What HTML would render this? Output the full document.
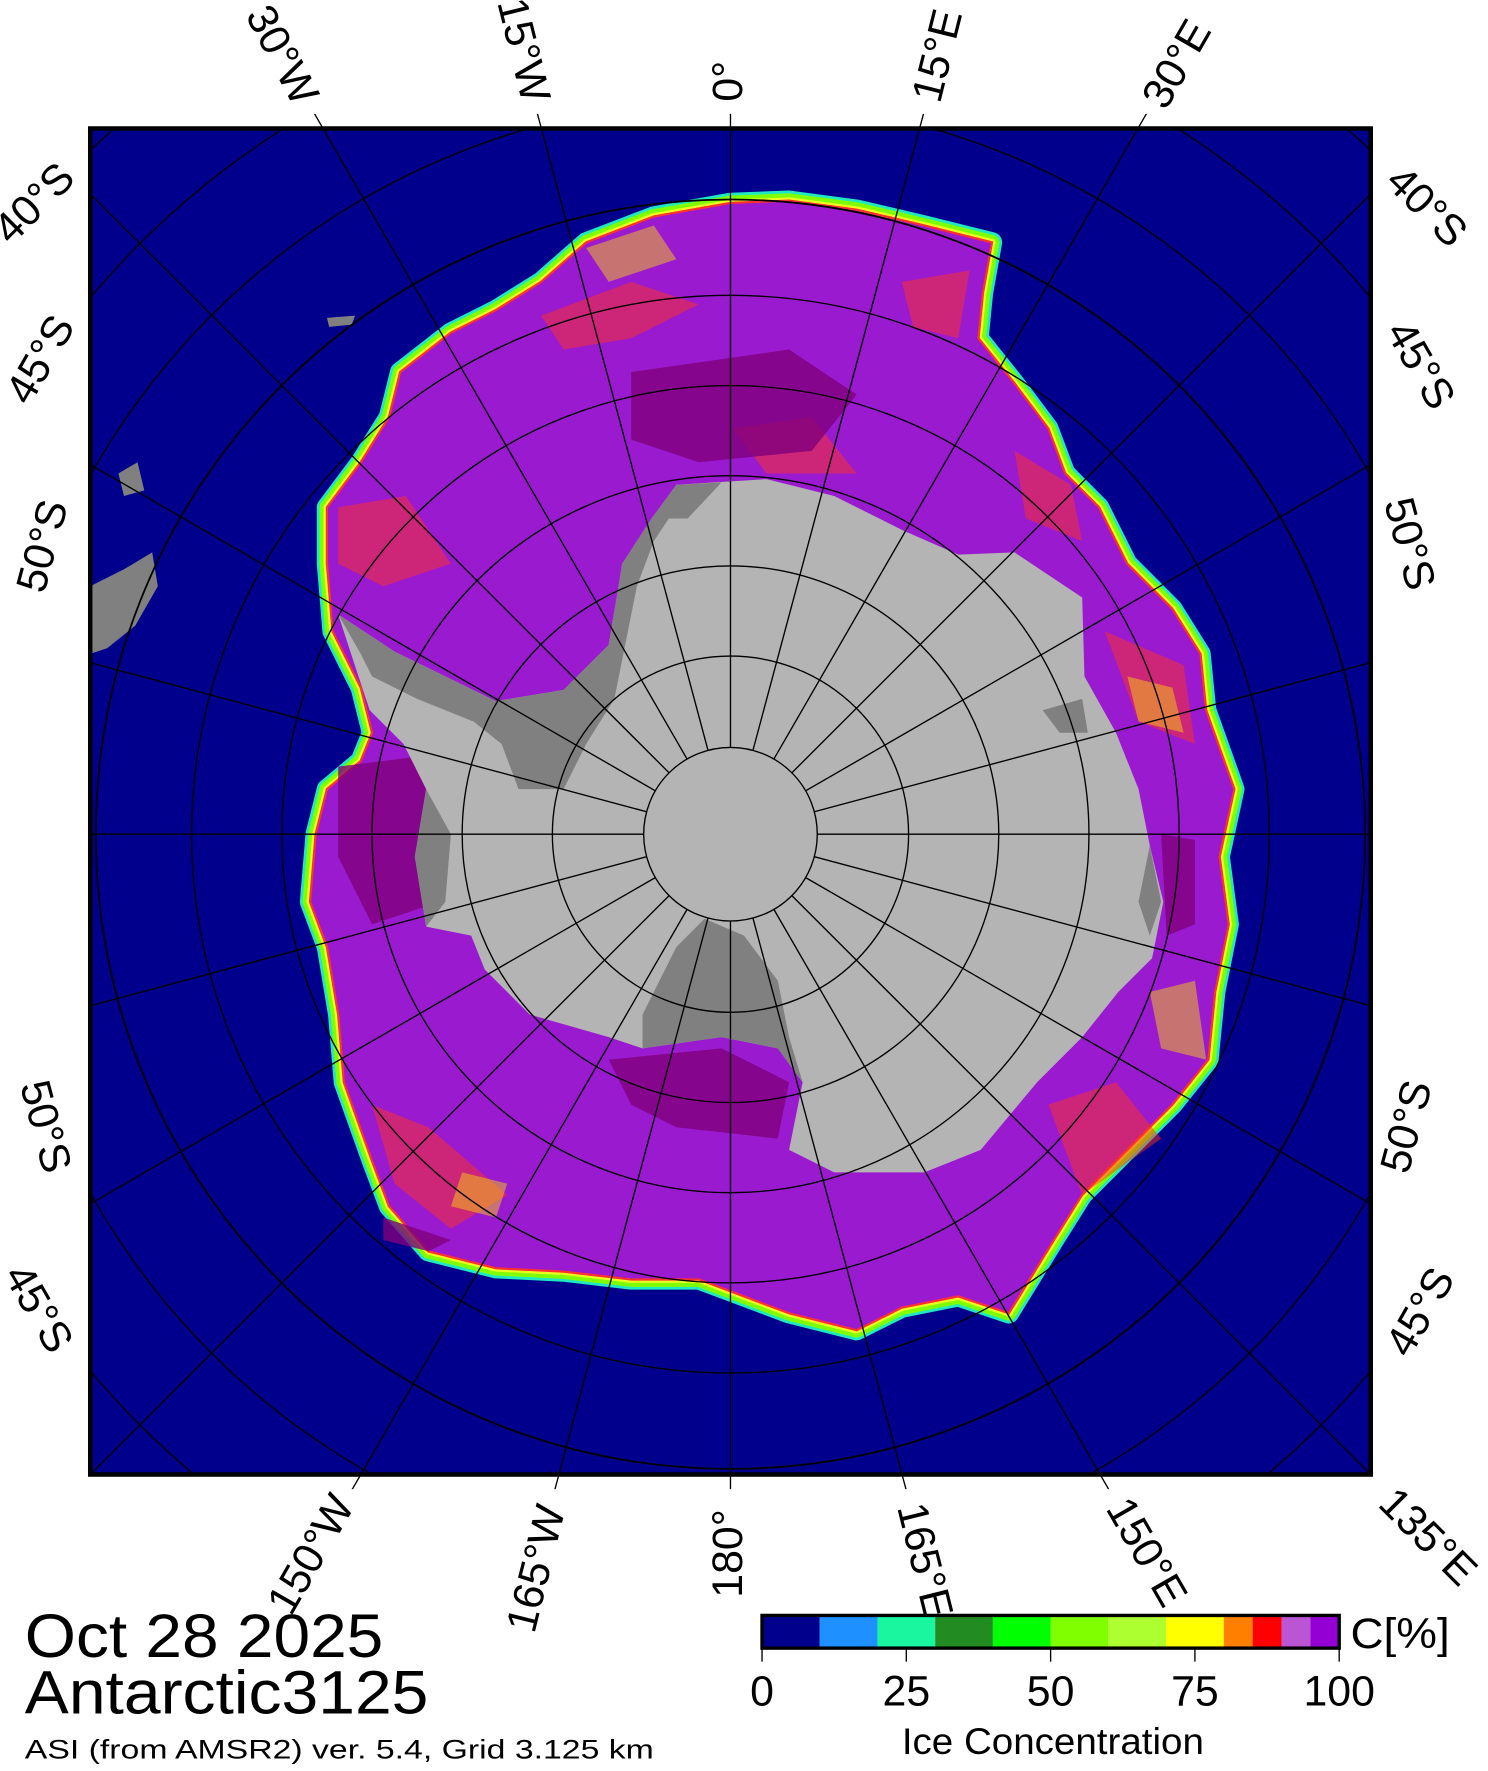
<!DOCTYPE html>
<html><head><meta charset="utf-8"><style>
html,body{margin:0;padding:0;background:#fff;overflow:hidden;width:1488px;height:1771px;}
svg{display:block;position:absolute;left:0;top:0;}
text{font-family:"Liberation Sans",Arial,sans-serif;fill:#000;}
</style></head><body>
<svg width="1488" height="1771" viewBox="0 0 1320 1571" preserveAspectRatio="none" xmlns="http://www.w3.org/2000/svg">
<defs>
<clipPath id="fr"><rect x="80" y="114" width="1136" height="1194"/></clipPath>
<clipPath id="fr2"><rect x="80" y="101" width="1136" height="1220"/></clipPath>
<path id="ext" d="M648,180 L700,178 L760,186 L820,200 L880,215 L872,260 L868,300 L900,340 L930,380 L945,420 L975,450 L1000,500 L1040,540 L1065,580 L1070,630 L1095,700 L1082,760 L1090,820 L1078,880 L1072,940 L1040,980 L1000,1020 L960,1060 L935,1100 L895,1165 L850,1150 L800,1160 L760,1180 L700,1165 L660,1150 L620,1135 L560,1135 L500,1128 L440,1125 L380,1110 L345,1070 L330,1030 L305,960 L300,900 L290,840 L275,800 L280,740 L290,700 L320,675 L330,650 L320,610 L295,560 L290,500 L290,450 L320,410 L345,370 L355,330 L400,295 L440,275 L480,250 L520,215 L580,192 Z"/>
</defs>
<rect x="80" y="114" width="1136" height="1194" fill="#00008c"/>
<g clip-path="url(#fr)">
<path d="M80,520 L110,505 L135,490 L140,520 L120,555 L95,575 L80,580Z" fill="#808080"/>
<path d="M105,420 L122,410 L128,435 L110,440Z" fill="#808080"/>
<path d="M290,282 L315,280 L312,288 L292,290Z" fill="#808080"/>
<use href="#ext" fill="none" stroke="#20e8c0" stroke-width="18" stroke-linejoin="round"/>
<use href="#ext" fill="none" stroke="#7fff00" stroke-width="13" stroke-linejoin="round"/>
<use href="#ext" fill="none" stroke="#e8ff20" stroke-width="6" stroke-linejoin="round"/>
<use href="#ext" fill="#9a1ad0" stroke="#ff3030" stroke-width="2"/>
<g fill="#ff3020" opacity="0.5">
<path d="M480,280 L560,250 L620,270 L560,300 L500,310Z"/>
<path d="M300,450 L360,440 L400,500 L340,520 L300,500Z"/>
<path d="M800,250 L860,240 L850,300 L810,290Z"/>
<path d="M900,400 L950,430 L960,480 L910,460Z"/>
<path d="M980,560 L1050,590 L1060,660 L1010,640Z"/>
<path d="M330,980 L380,1000 L450,1060 L400,1090 L350,1050Z"/>
<path d="M930,980 L990,960 L1030,1010 L960,1060Z"/>
<path d="M650,380 L720,370 L760,420 L680,420Z"/>
</g>
<g fill="#ffe000" opacity="0.45">
<path d="M520,220 L580,200 L600,230 L540,250Z"/>
<path d="M1000,600 L1040,610 L1050,650 L1010,640Z"/>
<path d="M1020,880 L1060,870 L1070,940 L1030,930Z"/>
<path d="M410,1040 L450,1050 L440,1080 L400,1070Z"/>
</g>
<g fill="#80007a" opacity="0.8">
<path d="M300,680 L380,670 L390,800 L330,820 L300,760Z"/>
<path d="M540,940 L640,930 L700,960 L690,1010 L600,1000 L560,980Z"/>
<path d="M560,330 L700,310 L760,350 L720,400 L620,410 L560,390Z"/>
<path d="M1030,740 L1060,745 L1060,820 L1035,830Z"/>
<path d="M340,1080 L400,1100 L380,1110 L340,1100Z"/>
</g>
<path d="M600,430 L680,425 L740,440 L800,470 L850,492 L900,490 L960,530 L962,600 L990,650 L1010,700 L1020,750 L1032,800 L1022,850 L992,880 L960,920 L920,960 L870,1020 L820,1040 L740,1040 L700,1020 L712,960 L690,930 L640,920 L570,930 L540,920 L470,900 L430,860 L418,830 L378,822 L368,760 L378,700 L358,660 L328,630 L318,600 L300,545 L350,578 L440,622 L500,612 L540,572 L552,500 L578,460 Z" fill="#b4b4b4"/>
<path d="M300,545 L350,578 L440,622 L500,612 L540,572 L552,500 L578,460 L600,430 L620,432 L600,450 L580,480 L565,520 L555,570 L545,620 L520,660 L500,700 L460,700 L445,660 L420,640 L370,620 L330,600 L320,580 Z" fill="#808080"/>
<path d="M570,930 L640,920 L690,930 L712,960 L700,920 L690,870 L660,830 L625,815 L600,840 L580,880 L570,900 Z" fill="#808080"/>
<path d="M378,700 L400,740 L395,800 L378,822 L368,760Z" fill="#808080"/>
<path d="M1020,750 L1030,800 L1020,830 L1010,800Z" fill="#808080"/>
<path d="M580,460 L600,430 L640,428 L610,460Z" fill="#808080"/>
<path d="M925,630 L960,620 L965,650 L940,650Z" fill="#808080"/>
<circle cx="648" cy="740" r="77" fill="#b4b4b4"/>
</g>
<g clip-path="url(#fr2)" stroke="#000" stroke-width="1.2" fill="none">
<g clip-path="url(#fr)">
<circle cx="648" cy="740" r="77"/><circle cx="648" cy="740" r="158"/><circle cx="648" cy="740" r="238"/>
<circle cx="648" cy="740" r="318"/><circle cx="648" cy="740" r="398"/><circle cx="648" cy="740" r="478"/>
<circle cx="648" cy="740" r="563" stroke-width="1.6"/><circle cx="648" cy="740" r="651"/><circle cx="648" cy="740" r="741"/><circle cx="648" cy="740" r="831"/>
</g>
<g id="sp">
<line x1="648" y1="663" x2="648" y2="-200"/>
<line x1="648" y1="663" x2="648" y2="-200" transform="rotate(15 648 740)"/>
<line x1="648" y1="663" x2="648" y2="-200" transform="rotate(30 648 740)"/>
<line x1="648" y1="663" x2="648" y2="-200" transform="rotate(45 648 740)"/>
<line x1="648" y1="663" x2="648" y2="-200" transform="rotate(60 648 740)"/>
<line x1="648" y1="663" x2="648" y2="-200" transform="rotate(75 648 740)"/>
<line x1="648" y1="663" x2="648" y2="-200" transform="rotate(90 648 740)"/>
<line x1="648" y1="663" x2="648" y2="-200" transform="rotate(105 648 740)"/>
<line x1="648" y1="663" x2="648" y2="-200" transform="rotate(120 648 740)"/>
<line x1="648" y1="663" x2="648" y2="-200" transform="rotate(135 648 740)"/>
<line x1="648" y1="663" x2="648" y2="-200" transform="rotate(150 648 740)"/>
<line x1="648" y1="663" x2="648" y2="-200" transform="rotate(165 648 740)"/>
</g>
<use href="#sp" transform="rotate(180 648 740)"/>
</g>
<rect x="80" y="114" width="1136" height="1194" fill="none" stroke="#000" stroke-width="4"/>
<rect x="40" y="95" width="38" height="1230" fill="#fff"/>
<rect x="1218" y="95" width="60" height="1230" fill="#fff"/>
<g font-size="38">
<text transform="translate(248,50) rotate(62)" text-anchor="middle" dominant-baseline="middle">30°W</text>
<text transform="translate(462,45) rotate(76)" text-anchor="middle" dominant-baseline="middle">15°W</text>
<text transform="translate(648,72) rotate(-90)" text-anchor="middle" dominant-baseline="middle">0°</text>
<text transform="translate(834,50) rotate(-76)" text-anchor="middle" dominant-baseline="middle">15°E</text>
<text transform="translate(1046,58) rotate(-60)" text-anchor="middle" dominant-baseline="middle">30°E</text>
<text transform="translate(278,1380) rotate(-60)" text-anchor="middle" dominant-baseline="middle">150°W</text>
<text transform="translate(478,1392) rotate(-76)" text-anchor="middle" dominant-baseline="middle">165°W</text>
<text transform="translate(648,1378) rotate(-90)" text-anchor="middle" dominant-baseline="middle">180°</text>
<text transform="translate(818,1385) rotate(76)" text-anchor="middle" dominant-baseline="middle">165°E</text>
<text transform="translate(1015,1378) rotate(60)" text-anchor="middle" dominant-baseline="middle">150°E</text>
<text transform="translate(1265,1365) rotate(45)" text-anchor="middle" dominant-baseline="middle">135°E</text>
<text transform="translate(32,182) rotate(-45)" text-anchor="middle" dominant-baseline="middle">40°S</text>
<text transform="translate(38,320) rotate(-60)" text-anchor="middle" dominant-baseline="middle">45°S</text>
<text transform="translate(40,485) rotate(-75)" text-anchor="middle" dominant-baseline="middle">50°S</text>
<text transform="translate(1264,185) rotate(45)" text-anchor="middle" dominant-baseline="middle">40°S</text>
<text transform="translate(1258,325) rotate(60)" text-anchor="middle" dominant-baseline="middle">45°S</text>
<text transform="translate(1248,483) rotate(75)" text-anchor="middle" dominant-baseline="middle">50°S</text>
<text transform="translate(38,1000) rotate(75)" text-anchor="middle" dominant-baseline="middle">50°S</text>
<text transform="translate(32,1162) rotate(60)" text-anchor="middle" dominant-baseline="middle">45°S</text>
<text transform="translate(1250,1000) rotate(-75)" text-anchor="middle" dominant-baseline="middle">50°S</text>
<text transform="translate(1262,1165) rotate(-60)" text-anchor="middle" dominant-baseline="middle">45°S</text>
</g>
<text x="22" y="1470" font-size="54" textLength="318" lengthAdjust="spacingAndGlyphs">Oct 28 2025</text>
<text x="22" y="1520" font-size="54" textLength="358" lengthAdjust="spacingAndGlyphs">Antarctic3125</text>
<text x="22" y="1560" font-size="24" textLength="558" lengthAdjust="spacingAndGlyphs">ASI (from AMSR2) ver. 5.4,  Grid 3.125 km</text>
<g>
<rect x="676" y="1433" width="51.2" height="29" fill="#00008c"/>
<rect x="727.2" y="1433" width="51.2" height="29" fill="#1e90ff"/>
<rect x="778.4" y="1433" width="51.2" height="29" fill="#1af5a0"/>
<rect x="829.6" y="1433" width="51.2" height="29" fill="#228b22"/>
<rect x="880.8" y="1433" width="51.2" height="29" fill="#00ff00"/>
<rect x="932" y="1433" width="51.2" height="29" fill="#7fff00"/>
<rect x="983.2" y="1433" width="51.2" height="29" fill="#adff2f"/>
<rect x="1034.4" y="1433" width="51.2" height="29" fill="#ffff00"/>
<rect x="1085.6" y="1433" width="25.6" height="29" fill="#ff8000"/>
<rect x="1111.2" y="1433" width="25.6" height="29" fill="#ff0000"/>
<rect x="1136.8" y="1433" width="25.6" height="29" fill="#ba55d3"/>
<rect x="1162.4" y="1433" width="25.6" height="29" fill="#9400d3"/>
<rect x="676" y="1433" width="512" height="29" fill="none" stroke="#000" stroke-width="3"/>
<g stroke="#000" stroke-width="1.2">
<line x1="676" y1="1462" x2="676" y2="1474"/><line x1="804" y1="1462" x2="804" y2="1474"/>
<line x1="932" y1="1462" x2="932" y2="1474"/><line x1="1060" y1="1462" x2="1060" y2="1474"/>
<line x1="1188" y1="1462" x2="1188" y2="1474"/>
</g>
<g font-size="38" text-anchor="middle">
<text x="676" y="1513">0</text><text x="804" y="1513">25</text><text x="932" y="1513">50</text>
<text x="1060" y="1513">75</text><text x="1188" y="1513">100</text>
</g>
<text x="1198" y="1462" font-size="38" textLength="88" lengthAdjust="spacingAndGlyphs">C[%]</text>
<text x="800" y="1556" font-size="33" textLength="268" lengthAdjust="spacingAndGlyphs">Ice Concentration</text>
</g>
</svg>
</body></html>
